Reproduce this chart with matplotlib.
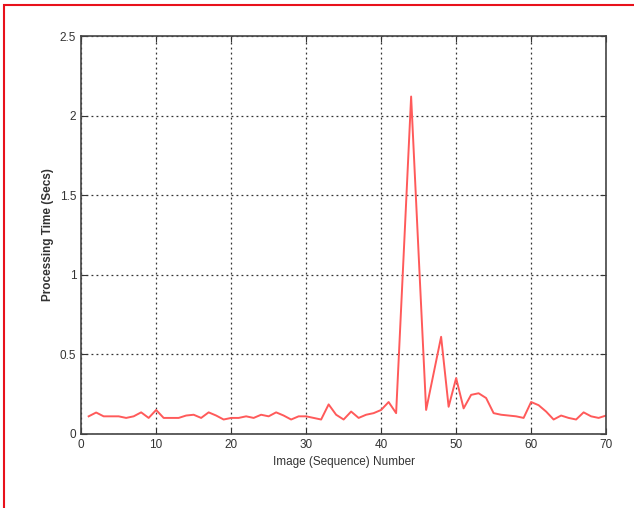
import matplotlib
matplotlib.use("Agg")
import matplotlib.pyplot as plt
from matplotlib.patches import Rectangle
import numpy as np

# image sequence number and processing time (secs)
image_no = np.arange(1, 71)
proc_time = [0.11, 0.134, 0.11, 0.11, 0.11, 0.10, 0.11, 0.135, 0.10, 0.15,
             0.10, 0.10, 0.10, 0.115, 0.12, 0.10, 0.135, 0.115, 0.09, 0.10,
             0.10, 0.11, 0.10, 0.12, 0.11, 0.135, 0.115, 0.09, 0.11, 0.11,
             0.10, 0.09, 0.185, 0.12, 0.09, 0.14, 0.10, 0.12, 0.13, 0.15,
             0.20, 0.13, 1.12, 2.12, 1.13, 0.15, 0.38, 0.61, 0.17, 0.35,
             0.16, 0.245, 0.255, 0.225, 0.13, 0.12, 0.115, 0.11, 0.10, 0.20,
             0.18, 0.14, 0.09, 0.115, 0.10, 0.09, 0.135, 0.11, 0.10, 0.115]
xticks = [0, 10, 20, 30, 40, 50, 60, 70]
yticks = [0, 0.5, 1, 1.5, 2, 2.5]
ytick_labels = ["0", "0.5", "1", "1.5", "2", "2.5"]

plt.rcParams['font.family'] = ['Liberation Sans', 'DejaVu Sans']

fig = plt.figure(figsize=(6.34, 5.08), dpi=100)
ax = fig.add_axes([0.128, 0.146, 0.828, 0.783])

ax.plot(image_no, proc_time, color="#ff5a5a", lw=1.4)

ax.set_xlim(0, 70)
ax.set_ylim(0, 2.5)
ax.set_xticks(xticks)
ax.set_yticks(yticks)
ax.set_yticklabels(ytick_labels)
ax.grid(True, color="#333333", linestyle=(0, (1.5, 2.5)), lw=0.9)
ax.tick_params(direction="in", length=4, labelsize=8.5, colors="#333333",
               top=True, right=True)
for s in ax.spines.values():
    s.set_color("#444444")
    s.set_linewidth(1.2)

ax.set_xlabel("Image (Sequence) Number", fontsize=8.5, color="#333333")
ax.set_ylabel("Processing Time (Secs)", fontsize=8.5, fontweight="bold",
              color="#333333")

# red frame, only top and left edges fall inside the picture
fig.patches.append(Rectangle((0.0063, -0.1), 1.2, 1.09, transform=fig.transFigure,
                             fill=False, edgecolor="#e8111b", lw=1.5))

fig.savefig("out.png", dpi=100)
